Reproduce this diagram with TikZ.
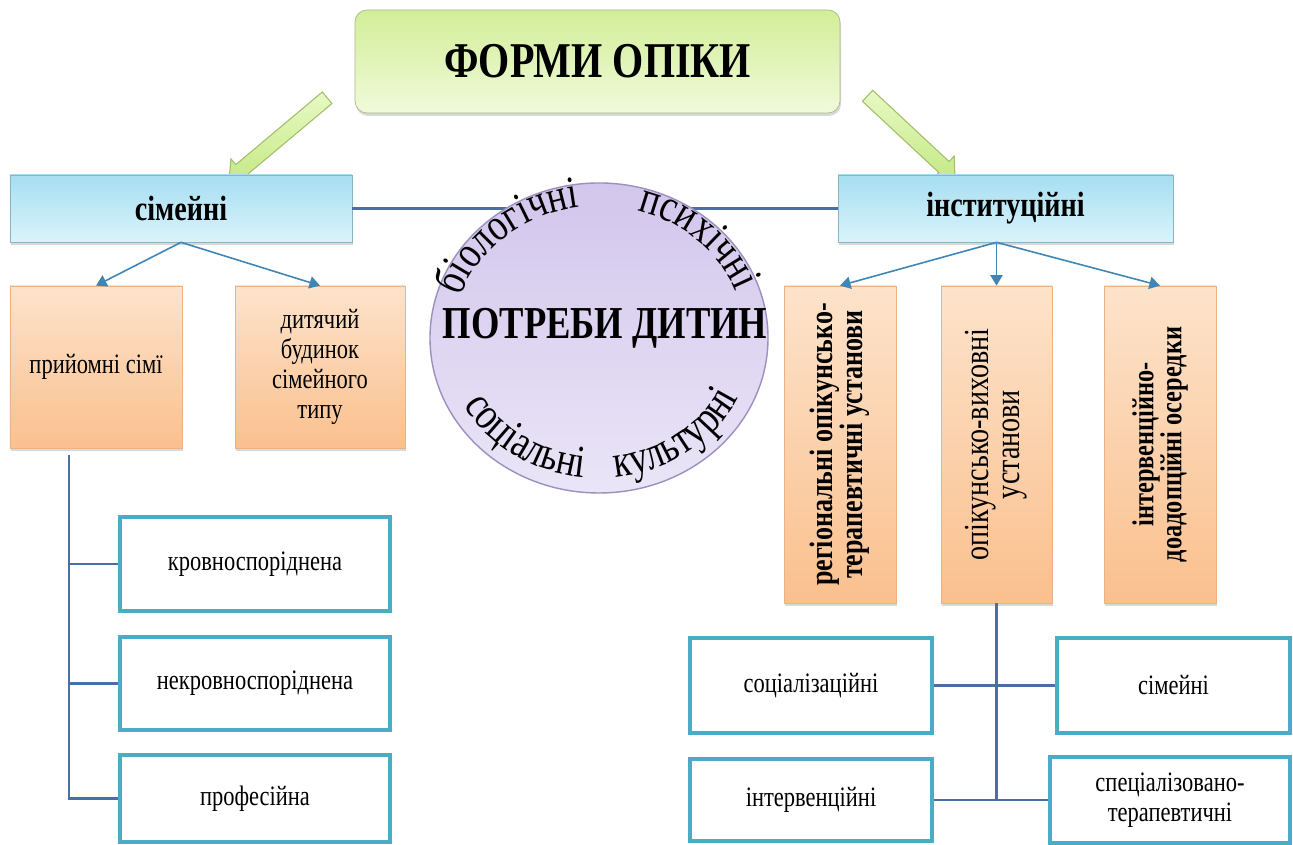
\documentclass[tikz,border=0pt]{standalone}
\usepackage{fontspec}
\setmainfont{Liberation Serif}[FakeStretch=0.8]
\usetikzlibrary{shapes.geometric,shapes.arrows,arrows.meta,shadows,decorations.text}

\definecolor{titletop}{HTML}{D2EE98}
\definecolor{titlebottom}{HTML}{F1FADB}
\definecolor{titleframe}{HTML}{A7B98A}
\definecolor{bluetop}{HTML}{A6DEF1}
\definecolor{bluebottom}{HTML}{DAF3FB}
\definecolor{blueframe}{HTML}{88B4C8}
\definecolor{orangetop}{HTML}{FDE3CB}
\definecolor{orangebottom}{HTML}{FAC08E}
\definecolor{orangeframe}{HTML}{EDB283}
\definecolor{needstop}{HTML}{D2C6EC}
\definecolor{needsbottom}{HTML}{EAE5F7}
\definecolor{needsframe}{HTML}{9C90BE}
\definecolor{arrowtop}{HTML}{E8F9C4}
\definecolor{arrowbottom}{HTML}{C5E986}
\definecolor{arrowframe}{HTML}{A2BE6A}
\definecolor{linkblue}{HTML}{4A6FA8}
\definecolor{tealframe}{HTML}{4BACC6}

\newcommand{\curvedfont}{\fontsize{26}{26}\selectfont}

\tikzset{
  boxshadow/.style={drop shadow={shadow xshift=0.02cm, shadow yshift=-0.06cm, opacity=0.3}},
  titlebox/.style={draw=titleframe, rounded corners=0.24cm, top color=titletop, bottom color=titlebottom,
    minimum width=9.7cm, minimum height=2.06cm, boxshadow, font=\fontsize{28.5}{30}\selectfont\bfseries},
  formbox/.style={draw=blueframe, top color=bluetop, bottom color=bluebottom, minimum height=1.34cm,
    boxshadow, font=\fontsize{20}{22}\selectfont\bfseries},
  orangebox/.style={draw=orangeframe, top color=orangetop, bottom color=orangebottom, boxshadow,
    align=center, font=\fontsize{16}{17}\selectfont},
  kindbox/.style={draw=tealframe, line width=1.8pt, fill=white, align=center, font=\fontsize{16}{17}\selectfont},
  needsshape/.style={ellipse, draw=needsframe, line width=0.8pt, top color=needstop, bottom color=needsbottom,
    minimum width=6.76cm, minimum height=6.2cm},
  greenarrow/.style={single arrow, draw=arrowframe, line width=0.6pt, top color=arrowtop, bottom color=arrowbottom,
    single arrow head extend=0.15cm, single arrow head indent=0cm, inner xsep=0pt, inner ysep=0.14cm},
  link/.style={draw=linkblue, line width=1.6pt},
  branch/.style={draw=linkblue, line width=1.3pt},
  pointer/.style={draw=linkblue!85!cyan, line width=0.9pt, -{Triangle[length=6pt,width=7pt]}},
}

\begin{document}
\begin{tikzpicture}
    \path[use as bounding box] (0,0) rectangle (25.86,16.9);

    \node (title) at (11.95,15.67) [titlebox] {ФОРМИ ОПІКИ};

    \node (arrow-family) at (5.62,14.17) [greenarrow, rotate=220, minimum height=2.56cm] {};
    \node (arrow-inst) at (18.17,14.22) [greenarrow, rotate=-43, minimum height=2.39cm] {};

    \node (family-box) at (3.62,12.73) [formbox, minimum width=6.84cm] {сімейні};
    \node (inst-box) at (20.11,12.73) [formbox, minimum width=6.7cm] {інституційні};

    \draw[link] (family-box.east) -- (inst-box.west);

    \node (needs) at (11.98,10.14) [needsshape] {};
    \node (needs-label) at (12.1,10.34) [font=\fontsize{26}{28}\selectfont\bfseries] {ПОТРЕБИ ДИТИН};

    \path[decorate, decoration={text along path, text align=center, text={|\curvedfont|біологічні}}]
      (needs.center) ++(170:2.92cm and 2.64cm) arc[start angle=170, end angle=90, x radius=2.92cm, y radius=2.64cm];
    \path[decorate, decoration={text along path, text align=center, text={|\curvedfont|психічні}}]
      (needs.center) ++(87:2.92cm and 2.64cm) arc[start angle=87, end angle=7, x radius=2.92cm, y radius=2.64cm];
    \path[decorate, decoration={text along path, text align=center, text={|\curvedfont|соціальні}}]
      (needs.center) ++(196:3.08cm and 2.8cm) arc[start angle=196, end angle=276, x radius=3.08cm, y radius=2.8cm];
    \path[decorate, decoration={text along path, text align=center, text={|\curvedfont|культурні}}]
      (needs.center) ++(266:3.08cm and 2.8cm) arc[start angle=266, end angle=346, x radius=3.08cm, y radius=2.8cm];

    % family side
    \node (foster-box) at (1.92,9.56) [orangebox, minimum width=3.44cm, minimum height=3.24cm] {прийомні сімї};
    \node (home-box) at (6.4,9.56) [orangebox, minimum width=3.4cm, minimum height=3.24cm] {дитячий\\будинок\\сімейного\\типу};

    \draw[pointer] (family-box.south) -- (foster-box.north);
    \draw[pointer] (family-box.south) -- (home-box.north);

    \node (kin-box) at (5.1,5.62) [kindbox, minimum width=5.4cm, minimum height=1.88cm] {кровноспоріднена};
    \node (nonkin-box) at (5.1,3.23) [kindbox, minimum width=5.4cm, minimum height=1.86cm] {некровноспоріднена};
    \node (prof-box) at (5.1,0.93) [kindbox, minimum width=5.4cm, minimum height=1.74cm] {професійна};

    \coordinate (foster-trunk) at (1.38,7.8);
    \draw[branch] (foster-trunk) |- (prof-box.west);
    \draw[branch] (foster-trunk |- kin-box.west) -- (kin-box.west);
    \draw[branch] (foster-trunk |- nonkin-box.west) -- (nonkin-box.west);

    % institution side
    \node (regional-box) at (16.8,8.01) [orangebox, minimum width=2.24cm, minimum height=6.34cm] {};
    \node (care-box) at (19.93,8.01) [orangebox, minimum width=2.22cm, minimum height=6.34cm] {};
    \node (early-box) at (23.2,8.01) [orangebox, minimum width=2.24cm, minimum height=6.34cm] {};

    \node (regional-label) at (regional-box) [rotate=90, align=center, font=\fontsize{18.5}{17}\selectfont\bfseries]
      {регіональні опікунсько-\\терапевтичні установи};
    \node (care-label) at (care-box) [rotate=90, align=center, font=\fontsize{20}{17.6}\selectfont]
      {опікунсько-виховні\\установи};
    \node (early-label) at (early-box) [rotate=90, align=center, font=\fontsize{17.3}{16}\selectfont\bfseries]
      {інтервенційно-\\доадопційні осередки};

    \draw[pointer] (inst-box.south -| care-box.north) -- (regional-box.north);
    \draw[pointer] (inst-box.south -| care-box.north) -- (care-box.north);
    \draw[pointer] (inst-box.south -| care-box.north) -- (early-box.north);

    \node (social-box) at (16.22,3.19) [kindbox, minimum width=4.84cm, minimum height=1.9cm] {соціалізаційні};
    \node (simeini-box) at (23.47,3.19) [kindbox, minimum width=4.66cm, minimum height=1.9cm] {сімейні};
    \node (interv-box) at (16.22,0.9) [kindbox, minimum width=4.84cm, minimum height=1.64cm] {інтервенційні};
    \node (spec-box) at (23.4,0.9) [kindbox, minimum width=4.8cm, minimum height=1.72cm] {спеціалізовано-\\терапевтичні};

    \draw[branch] (care-box.south) -- (care-box.south |- interv-box.east);
    \draw[branch] (social-box.east) -- (simeini-box.west);
    \draw[branch] (interv-box.east) -- (spec-box.west);
  \end{tikzpicture}
\end{document}
